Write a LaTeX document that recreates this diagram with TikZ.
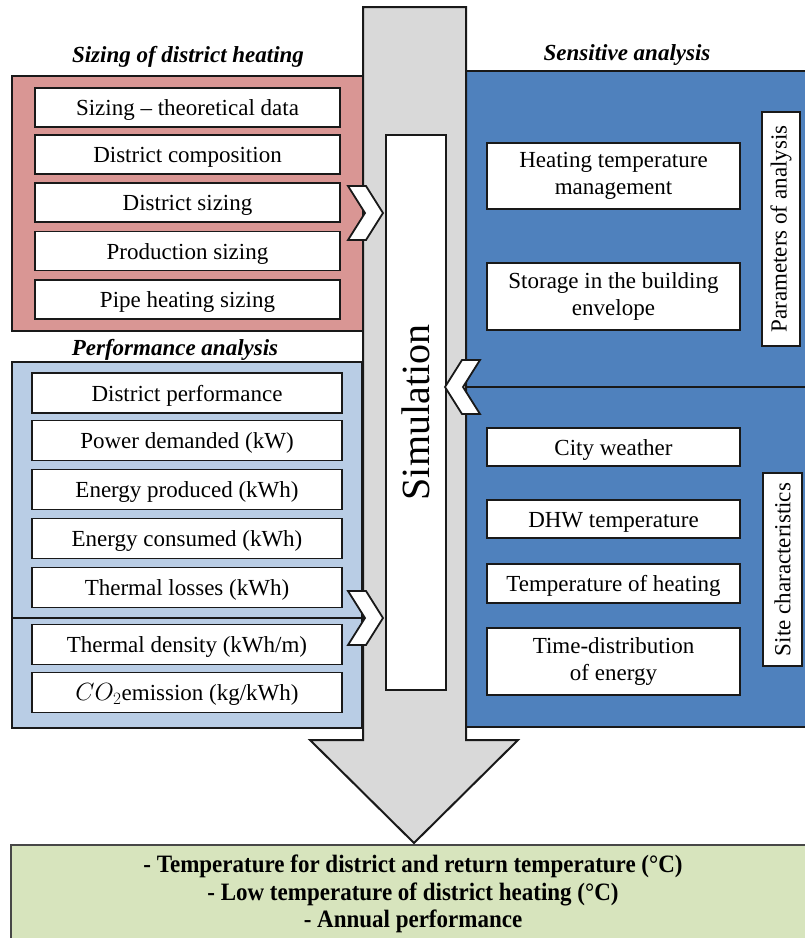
\documentclass[tikz,border=0pt]{standalone}
\usepackage{fontspec}
\setmainfont{Liberation Serif}
\newfontfamily\resfamily[FakeStretch=0.92]{Liberation Serif}
\definecolor{sizingred}{RGB}{217,150,148}
\definecolor{perfblue}{RGB}{185,205,229}
\definecolor{sensblue}{RGB}{79,129,189}
\definecolor{simgray}{RGB}{217,217,217}
\definecolor{resgreen}{RGB}{215,228,189}
\definecolor{edge}{RGB}{25,25,25}
\newcommand{\bodyfont}{\fontsize{23}{27}\selectfont}
\newcommand{\ttlfont}{\fontsize{23}{26}\selectfont\bfseries\itshape}
\newcommand{\simfont}{\fontsize{40}{44}\selectfont}
\newcommand{\resfont}{\resfamily\fontsize{25}{27.5}\selectfont\bfseries}
\begin{document}
\begin{tikzpicture}[x=1pt,y=-1pt,
  box/.style={draw=edge, fill=white, line width=1.2pt, inner sep=0pt, font=\bodyfont, align=center},
  onebox/.style={box, text height=20pt, text depth=4pt},
  panel/.style={draw=edge, line width=2.4pt, inner sep=0pt},
  ttl/.style={font=\ttlfont, inner sep=0pt},
  chev/.style={draw=edge, fill=white, line width=1.8pt, line join=miter}
]
\useasboundingbox (0,0) rectangle (805,938);

% result box
\node[draw=edge!80, line width=1.2pt, fill=resgreen, inner sep=0pt, minimum width=804, minimum height=100] (result) at (413,895) {};

% panels
\node[panel, fill=sizingred, minimum width=351, minimum height=255] (sizingpanel) at (187.5,203.5) {};
\node[panel, fill=perfblue, minimum width=350, minimum height=366] (perfpanel) at (187,545) {};
\node[panel, fill=sensblue, minimum width=349, minimum height=316] (parampanel) at (640.5,229) {};
\node[panel, fill=sensblue, minimum width=349, minimum height=340] (sitepanel) at (640.5,557) {};
\coordinate (divL) at (12,618);
\coordinate (divR) at (362,618);
\draw[line width=2.4pt, draw=edge] (divL) -- (divR);

% simulation arrow
\draw[line width=2pt, draw=edge, fill=simgray, line join=miter]
  (363,7) -- (466,7) -- (466,740) -- (518,740) -- (414,843) -- (310,740) -- (363,740) -- cycle;
\node[box, rotate=90, minimum width=555, minimum height=60, font=\simfont] (sim) at (416,412.5) {Simulation};

% titles
\node[ttl] (t1) at (188,57) {Sizing of district heating};
\node[ttl] (t2) at (627,55) {Sensitive analysis};
\node[ttl] (t3) at (175,350) {Performance analysis};

% sizing items
\node[onebox, minimum width=305, minimum height=39] (s1) at (187.5,107.5) {Sizing -- theoretical data};
\node[onebox, minimum width=305, minimum height=39] (s2) at (187.5,154.5) {District composition};
\node[onebox, minimum width=305, minimum height=39] (s3) at (187.5,202.5) {District sizing};
\node[onebox, minimum width=305, minimum height=39] (s4) at (187.5,251) {Production sizing};
\node[onebox, minimum width=305, minimum height=39] (s5) at (187.5,299.5) {Pipe heating sizing};

% performance items
\node[onebox, minimum width=310, minimum height=40] (p1) at (187,393) {District performance};
\node[onebox, minimum width=310, minimum height=40] (p2) at (187,440.5) {Power demanded (kW)};
\node[onebox, minimum width=310, minimum height=40] (p3) at (187,489.5) {Energy produced (kWh)};
\node[onebox, minimum width=310, minimum height=40] (p4) at (187,538.5) {Energy consumed (kWh)};
\node[onebox, minimum width=310, minimum height=40] (p5) at (187,587.5) {Thermal losses (kWh)};
\node[onebox, minimum width=310, minimum height=40] (p6) at (187,644.5) {Thermal density (kWh/m)};
\node[onebox, minimum width=310, minimum height=40] (p7) at (187,692.5) {$CO_2$emission (kg/kWh)};

% sensitive analysis items
\node[box, minimum width=253, minimum height=66] (a1) at (613.5,176) {Heating temperature\\management};
\node[box, minimum width=253, minimum height=67] (a2) at (613.5,296.5) {Storage in the building\\envelope};
\node[box, rotate=90, minimum width=234, minimum height=38] (params) at (781,229) {Parameters of analysis};

\node[onebox, minimum width=253, minimum height=38] (c1) at (613.5,447) {City weather};
\node[onebox, minimum width=253, minimum height=38] (c2) at (613.5,519) {DHW temperature};
\node[onebox, minimum width=253, minimum height=39] (c3) at (613.5,583.5) {Temperature of heating};
\node[box, minimum width=253, minimum height=67] (c4) at (613.5,661.5) {Time-distribution\\of energy};
\node[box, rotate=90, minimum width=193, minimum height=39] (site) at (782.5,569.5) {Site characteristics};

% chevrons
\draw[chev] (348,186) -- (366,186) -- (383,213) -- (366,240) -- (348,240) -- (365,213) -- cycle;
\draw[chev] (348,591) -- (366,591) -- (383,618) -- (366,645) -- (348,645) -- (365,618) -- cycle;
\draw[chev] (480,360) -- (462,360) -- (445,387) -- (462,414) -- (480,414) -- (463,387) -- cycle;

% results
\node[font=\resfont, align=center, inner sep=0pt] (res) at (413,894)
  {- Temperature for district and return temperature (°C)\\- Low temperature of district heating (°C)\\- Annual performance};
\end{tikzpicture}
\end{document}
